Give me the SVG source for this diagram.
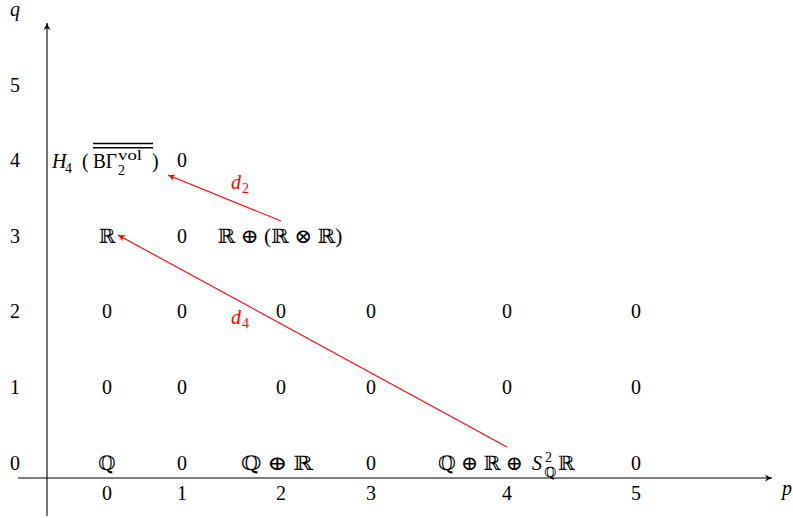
<svg xmlns="http://www.w3.org/2000/svg" width="793" height="518" viewBox="0 0 793 518">
<style>
text{font-family:"Liberation Serif","DejaVu Serif",serif;font-size:20px;fill:#000;text-anchor:middle}
.s{text-anchor:start}
.sm{font-size:14px}
.it{font-style:italic}
.red{fill:#ff0000}
.ax{stroke:#000;stroke-width:1.1;fill:none}
.ar{stroke:#ff0000;stroke-width:1.1;fill:none}
</style>
<defs>
<marker id="ah" markerWidth="10" markerHeight="10" refX="8" refY="5" orient="auto" markerUnits="userSpaceOnUse">
<path d="M1,1.5 Q5,4 8,5 Q5,6 1,8.5 L3,5 Z" fill="#000"/>
</marker>
<marker id="ahr" markerWidth="10" markerHeight="10" refX="8" refY="5" orient="auto" markerUnits="userSpaceOnUse">
<path d="M1,1.5 Q5,4 8,5 Q5,6 1,8.5 L3,5 Z" fill="#ff0000"/>
</marker>
</defs>
<g id="axes">
<line class="ax" x1="47" y1="516" x2="47" y2="23" marker-end="url(#ah)"/>
<line class="ax" x1="18" y1="478" x2="772" y2="478" marker-end="url(#ah)"/>
<text class="it" x="15" y="16">q</text>
<text class="it" x="787" y="495">p</text>
</g>
<g id="qlabels">
<text x="15" y="92">5</text>
<text x="15" y="167">4</text>
<text x="15" y="243">3</text>
<text x="15" y="318">2</text>
<text x="15" y="394">1</text>
<text x="15" y="470">0</text>
</g>
<g id="plabels">
<text x="107" y="500">0</text>
<text x="182" y="500">1</text>
<text x="281" y="500">2</text>
<text x="371" y="500">3</text>
<text x="507" y="500">4</text>
<text x="636" y="500">5</text>
</g>
<g id="row4">
<text class="s it" x="52" y="168">H</text>
<text class="s sm" x="65" y="173">4</text>
<text class="s" x="82" y="168">(</text>
<text class="s" x="93" y="168" textLength="24" lengthAdjust="spacingAndGlyphs">BΓ</text>
<text class="s sm" x="118" y="160" textLength="24" lengthAdjust="spacingAndGlyphs">vol</text>
<text class="s sm" x="118" y="175">2</text>
<text class="s" x="152" y="168">)</text>
<line x1="93" y1="143.5" x2="153" y2="143.5" stroke="#000" stroke-width="1.5"/>
<line x1="93" y1="147.8" x2="153" y2="147.8" stroke="#000" stroke-width="1.5"/>
<text x="182" y="167">0</text>
</g>
<g id="row3">
<text x="107" y="243">ℝ</text>
<text x="182" y="243">0</text>
<text x="280" y="243" textLength="125" lengthAdjust="spacingAndGlyphs">ℝ ⊕ (ℝ ⊗ ℝ)</text>
</g>
<g id="row2">
<text x="107" y="318">0</text>
<text x="182" y="318">0</text>
<text x="281" y="318">0</text>
<text x="371" y="318">0</text>
<text x="507" y="318">0</text>
<text x="636" y="318">0</text>
</g>
<g id="row1">
<text x="107" y="394">0</text>
<text x="182" y="394">0</text>
<text x="281" y="394">0</text>
<text x="371" y="394">0</text>
<text x="507" y="394">0</text>
<text x="636" y="394">0</text>
</g>
<g id="row0">
<text x="107" y="470">ℚ</text>
<text x="182" y="470">0</text>
<text x="277" y="470" textLength="72" lengthAdjust="spacingAndGlyphs">ℚ ⊕ ℝ</text>
<text x="371" y="470">0</text>
<text class="s" x="438" y="470" textLength="85" lengthAdjust="spacingAndGlyphs">ℚ ⊕ ℝ ⊕</text>
<text class="s it" x="532" y="470">S</text>
<text class="s sm" x="545" y="462">2</text>
<text class="s sm" x="544" y="477">ℚ</text>
<text class="s" x="558" y="470">ℝ</text>
<text x="636" y="470">0</text>
</g>
<g id="connectors">
<line class="ar" x1="281" y1="221" x2="168" y2="175" marker-end="url(#ahr)"/>
<line class="ar" x1="507" y1="447" x2="118" y2="235" marker-end="url(#ahr)"/>
<text class="s it red" x="231" y="189">d</text>
<text class="s sm red" x="242" y="193">2</text>
<text class="s it red" x="231" y="324">d</text>
<text class="s sm red" x="242" y="328">4</text>
</g>
</svg>
